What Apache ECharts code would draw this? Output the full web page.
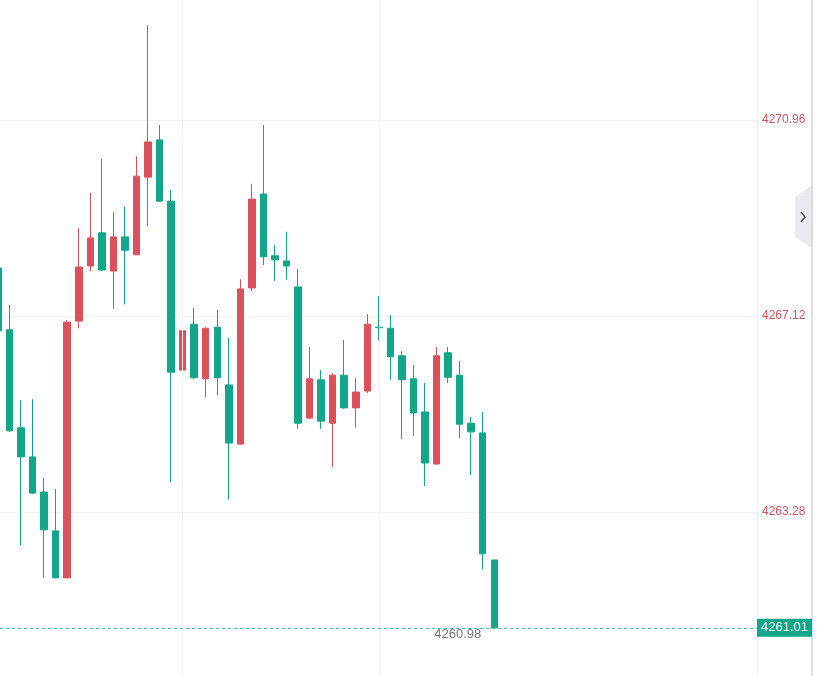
<!DOCTYPE html>
<html>
<head>
<meta charset="utf-8">
<script src="https://cdn.jsdelivr.net/npm/echarts@6/dist/echarts.min.js"></script>
<style>
  html, body { margin: 0; padding: 0; background: #fff; }
  #main { width: 821px; height: 676px; }
</style>
</head>
<body>
<div id="main"></div>
<script>
// 每根K线: 开 / 收 / 低 / 高
var opens  = [4268.06, 4266.85, 4264.93, 4264.36, 4263.67, 4262.91, 4261.99, 4267.02, 4268.10, 4268.75,
              4268.00, 4268.67, 4268.32, 4269.84, 4270.57, 4269.37, 4266.06, 4266.96, 4265.89, 4266.90,
              4265.77, 4264.61, 4267.67, 4269.51, 4268.30, 4268.20, 4267.69, 4265.12, 4265.87, 4265.02,
              4265.96, 4265.32, 4265.65, 4266.90, 4266.88, 4266.34, 4265.89, 4265.24, 4264.22, 4266.40,
              4265.96, 4265.02, 4264.83, 4262.34];
var closes = [4266.83, 4264.87, 4264.36, 4263.65, 4262.93, 4261.99, 4267.00, 4268.08, 4268.65, 4268.02,
              4268.67, 4268.41, 4269.86, 4270.53, 4269.37, 4266.02, 4266.83, 4265.91, 4266.88, 4265.91,
              4264.63, 4267.65, 4269.41, 4268.28, 4268.22, 4268.10, 4265.02, 4265.89, 4265.06, 4265.96,
              4265.32, 4265.63, 4266.96, 4266.89, 4266.32, 4265.87, 4265.22, 4264.24, 4266.34, 4265.92,
              4265.00, 4264.85, 4262.46, 4261.01];
var lows   = [4266.73, 4264.85, 4262.63, 4263.63, 4261.99, 4261.98, 4261.98, 4266.88, 4268.00, 4268.01,
              4267.26, 4267.35, 4268.31, 4268.88, 4269.36, 4263.87, 4266.04, 4265.89, 4265.53, 4265.57,
              4263.53, 4264.60, 4267.61, 4268.12, 4267.81, 4267.83, 4264.91, 4265.10, 4264.91, 4264.16,
              4265.30, 4264.93, 4265.61, 4266.65, 4265.87, 4264.71, 4264.77, 4263.79, 4264.21, 4265.81,
              4264.73, 4264.00, 4262.16, 4260.98];
var highs  = [4268.18, 4267.34, 4265.47, 4265.49, 4263.95, 4263.73, 4267.04, 4268.84, 4269.53, 4270.20,
              4269.16, 4269.26, 4270.25, 4272.82, 4270.86, 4269.59, 4266.83, 4267.28, 4266.90, 4267.24,
              4266.69, 4267.84, 4269.71, 4270.86, 4268.51, 4268.77, 4268.04, 4266.51, 4266.06, 4266.00,
              4266.65, 4265.91, 4267.16, 4267.51, 4267.14, 4266.43, 4266.16, 4265.81, 4266.51, 4266.51,
              4266.24, 4265.14, 4265.24, 4262.34];

var lastPrice = 4261.01;
var lowPrice = 4260.98;
var lowIndex = 43;
var gridCols = [16, 33];   // 竖向网格线所在的K线

var BASE = 4263.28;   // 纵轴刻度基准
var STEP = 3.84;
var RED = '#dc505c';
var GREEN = '#12a68b';

var kData = [];
for (var i = 0; i < opens.length; i++) {
    kData.push([i, +(opens[i] - BASE).toFixed(2), +(closes[i] - BASE).toFixed(2),
                +(lows[i] - BASE).toFixed(2), +(highs[i] - BASE).toFixed(2)]);
}

var myChart = echarts.init(document.getElementById('main'));
var option = {
    animation: false,
    backgroundColor: '#fff',
    grid: { left: 0, right: 64, top: -76, bottom: -32, outerBoundsMode: 'none', containLabel: false },
    xAxis: {
        type: 'value',
        min: 0.177,
        max: 65.76,
        axisLine: { show: false },
        axisTick: { show: false },
        axisLabel: { show: false },
        splitLine: { show: false }
    },
    yAxis: {
        type: 'value',
        position: 'right',
        min: -STEP,
        max: STEP * 3,
        interval: STEP,
        axisLine: { show: true, lineStyle: { color: '#eeeeee' } },
        axisTick: { show: false },
        axisLabel: {
            margin: 5,
            color: '#d9535f',
            fontSize: 12,
            fontFamily: 'Liberation Sans, Arial, sans-serif',
            showMinLabel: false,
            showMaxLabel: false,
            formatter: function (v) { return (v + BASE).toFixed(2); }
        },
        splitLine: { show: true, lineStyle: { color: '#f2f2f2' } }
    },
    series: [
        {
            // 竖向网格线
            type: 'line',
            z: 1,
            data: [],
            markLine: {
                silent: true,
                symbol: ['none', 'none'],
                label: { show: false },
                lineStyle: { color: '#f2f2f2', type: 'solid', width: 1 },
                data: gridCols.map(function (c) { return { xAxis: c }; })
            }
        },
        {
            type: 'candlestick',
            z: 3,
            barWidth: 7,
            dimensions: ['idx', 'open', 'close', 'lowest', 'highest'],
            encode: { x: 0, y: [1, 2, 3, 4] },
            data: kData,
            itemStyle: {
                color: RED,
                color0: GREEN,
                borderColor: RED,
                borderColor0: GREEN,
                borderWidth: 1
            },
            markLine: {
                silent: true,
                symbol: ['none', 'none'],
                lineStyle: { color: '#4fbfa9', type: [3, 3], width: 1, opacity: 1 },
                emphasis: { disabled: true },
                label: {
                    show: true,
                    position: 'end',
                    distance: 0,
                    formatter: lastPrice.toFixed(2),
                    color: '#fff',
                    backgroundColor: GREEN,
                    padding: [3, 4, 2, 4],
                    fontSize: 13,
                    fontFamily: 'Liberation Sans, Arial, sans-serif'
                },
                data: [{ yAxis: +(lastPrice - BASE).toFixed(2), lineStyle: { color: '#4fbfa9' } }]
            },
            markPoint: {
                silent: true,
                symbol: 'circle',
                symbolSize: 0,
                label: {
                    show: true,
                    position: 'left',
                    distance: 2,
                    formatter: '{v|' + lowPrice.toFixed(2) + '}{d|···}',
                    rich: {
                        v: { color: '#777', fontSize: 13, fontFamily: 'Liberation Sans, Arial, sans-serif', padding: [10, 0, 0, 0] },
                        d: { color: '#aaa', fontSize: 10, padding: [0, 0, 0, 1] }
                    }
                },
                data: [{ coord: [lowIndex, +(lowPrice - BASE).toFixed(2)] }]
            }
        }
    ],
    graphic: [
        { type: 'rect', shape: { x: 811, y: 0, width: 2, height: 676 }, style: { fill: '#dedede' }, silent: true },
        { type: 'polygon', shape: { points: [[795, 197], [811, 186], [811, 248], [795, 237]] }, style: { fill: '#ebebef' }, silent: true },
        { type: 'polyline', shape: { points: [[801, 212], [805, 217], [801, 222]] }, style: { stroke: '#555', lineWidth: 1.5, fill: null }, silent: true }
    ]
};
myChart.setOption(option);
</script>
</body>
</html>
